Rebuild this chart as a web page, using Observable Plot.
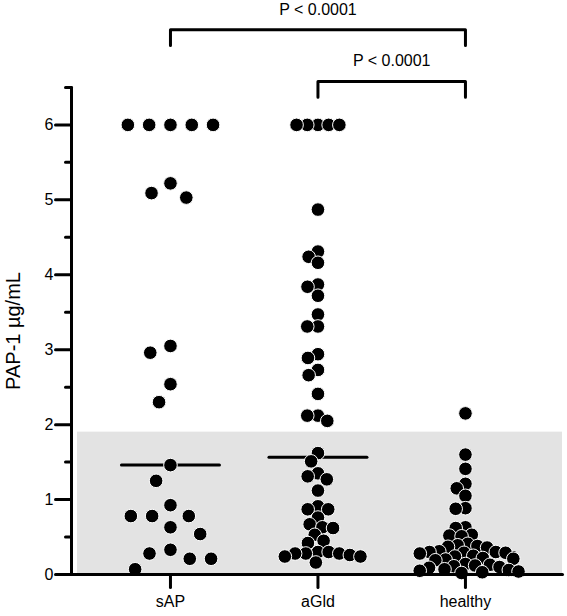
<!DOCTYPE html>
<html>
<head>
<meta charset="utf-8">
<script src="https://cdn.jsdelivr.net/npm/d3@7"></script>
<script src="https://cdn.jsdelivr.net/npm/@observablehq/plot@0.6"></script>
<style>
  html, body { margin: 0; padding: 0; background: #fff; overflow: hidden; }
  #chart svg { display: block; }
</style>
</head>
<body>
<div id="chart"></div>
<script>
// ---------------- data ----------------
const categories = ["sAP", "aGld", "healthy"];

const sAP = [6, 6, 6, 6, 6, 5.22, 5.09, 5.03, 3.05, 2.96, 2.54, 2.30,
  1.46, 1.25, 0.925, 0.78, 0.78, 0.78, 0.63, 0.54, 0.33, 0.28, 0.21, 0.21, 0.07];

const aGld = [6, 6, 6, 6, 6, 4.87, 4.31, 4.24, 4.16, 3.87, 3.84, 3.72, 3.47,
  3.31, 3.31, 2.94, 2.89, 2.73, 2.66, 2.41, 2.12, 2.12, 2.05, 1.62, 1.51,
  1.35, 1.31, 1.27, 1.12, 0.91, 0.87, 0.87, 0.76, 0.67, 0.63, 0.62, 0.53,
  0.45, 0.42, 0.30, 0.30, 0.28, 0.28, 0.28, 0.26, 0.24, 0.24, 0.16];

const healthy = [2.15, 1.60, 1.41, 1.21, 1.15, 1.05, 0.885, 0.877, 0.63, 0.62,
  0.53, 0.52, 0.51, 0.41, 0.39, 0.38, 0.37, 0.36, 0.31, 0.30, 0.30, 0.29, 0.29,
  0.28, 0.25, 0.24, 0.22, 0.21, 0.20, 0.19, 0.14, 0.13, 0.12, 0.11, 0.10, 0.09,
  0.07, 0.06, 0.05, 0.04, 0.03, 0.02];

const yTicks = [0, 1, 2, 3, 4, 5, 6];
const yMinorTicks = [0.5, 1.5, 2.5, 3.5, 4.5, 5.5, 6.5];
const normalRangeTop = 1.9;
const yLabel = "PAP-1 µg/mL";
const comparisons = [
  {from: "aGld", to: "healthy", label: "P < 0.0001"},
  {from: "sAP", to: "healthy", label: "P < 0.0001"}
];

// ---------------- layout ----------------
const W = 567, H = 616;
const mL = 71, mR = 5, mT = 12, mB = 42;
const xDomain = [-0.671, 2.658];
const yDomain = [0, 7.5];
const axisTop = 6.5;
const pxX = (W - mL - mR) / (xDomain[1] - xDomain[0]);
const pxY = (H - mT - mB) / (yDomain[1] - yDomain[0]);
const R = 6.8;
const minDist = {sAP: 21.3, aGld: 10.7, healthy: 9.8};
const medianHalfWidth = 49 / pxX;
const bracketBase = 6.58, bracketStep = 0.69, bracketDrop = 0.21, labelGap = 0.27;
const LW = 3;
const x0 = xDomain[0];

// greedy beeswarm (pixel offsets), highest values first
function swarm(values, m) {
  const order = d3.range(values.length).sort((a, b) => values[b] - values[a] || a - b);
  const placed = [];
  const out = new Array(values.length);
  for (const i of order) {
    const y = values[i] * pxY;
    const cands = [0];
    for (const p of placed) {
      const dy = Math.abs(p.y - y);
      if (dy < m) {
        const dx = Math.sqrt(m * m - dy * dy);
        cands.push(p.x - dx, p.x + dx);
      }
    }
    cands.sort((a, b) => Math.abs(a) - Math.abs(b) || a - b);
    let x = 0;
    for (const c of cands) {
      if (placed.every(p => (p.x - c) ** 2 + (p.y - y) ** 2 >= m * m - 1e-6)) { x = c; break; }
    }
    placed.push({x, y});
    out[i] = x;
  }
  return out;
}

const groups = [sAP, aGld, healthy];
const points = [];
groups.forEach((vals, gi) => {
  const offs = swarm(vals, minDist[categories[gi]]);
  vals.forEach((v, i) => points.push({group: categories[gi], gi, value: v, x: gi + offs[i] / pxX}));
});
const medians = groups.map((vals, gi) => ({gi, value: d3.median(vals)}));

// axis geometry as polyline segments (object data)
const axisSegs = [
  {id: "yaxis", x: x0, y: 0}, {id: "yaxis", x: x0, y: axisTop},
  {id: "xaxis", x: x0 - 1.5 / pxX, y: 0}, {id: "xaxis", x: xDomain[1], y: 0},
  ...yTicks.flatMap(v => [{id: "yt" + v, x: x0 - 16 / pxX, y: v}, {id: "yt" + v, x: x0, y: v}]),
  ...yMinorTicks.flatMap(v => [{id: "ym" + v, x: x0 - 6 / pxX, y: v}, {id: "ym" + v, x: x0, y: v}]),
  ...categories.flatMap((c, i) => [{id: "xt" + i, x: i, y: 0}, {id: "xt" + i, x: i, y: -13 / pxY}])
];
const yTickLabels = yTicks.map(v => ({v, label: String(v)}));
const xTickLabels = categories.map((c, i) => ({i, label: c}));
const medianSegs = medians.flatMap(m => [
  {id: m.gi, x: m.gi - medianHalfWidth, y: m.value}, {id: m.gi, x: m.gi + medianHalfWidth, y: m.value}
]);

const brackets = comparisons.map((c, k) => {
  const a = categories.indexOf(c.from), b = categories.indexOf(c.to);
  const yH = bracketBase + k * bracketStep;
  return {...c, a, b, yH, yE: yH - bracketDrop, mid: (a + b) / 2};
});
const bracketPts = brackets.flatMap((br, k) => [
  {k, x: br.a, y: br.yE}, {k, x: br.a, y: br.yH},
  {k, x: br.b, y: br.yH}, {k, x: br.b, y: br.yE}
]);

const chart = Plot.plot({
  width: W, height: H,
  marginLeft: mL, marginRight: mR, marginTop: mT, marginBottom: mB,
  style: {fontFamily: "Arial", fontSize: "16px", color: "#000", background: "#fff"},
  x: {domain: xDomain, label: null, axis: null},
  y: {domain: yDomain, label: null, axis: null},
  marks: [
    Plot.rect([{top: normalRangeTop}], {x1: xDomain[0], x2: xDomain[1], y1: 0, y2: "top",
      fill: "#e3e3e3", insetLeft: 6}),
    Plot.line(medianSegs, {x: "x", y: "y", z: "id", stroke: "#000", strokeWidth: LW}),
    Plot.dot(points, {x: "x", y: "value", r: R, fill: "#000", stroke: "#fff", strokeWidth: 1}),
    Plot.line(axisSegs, {x: "x", y: "y", z: "id", stroke: "#000", strokeWidth: LW}),
    Plot.text(yTickLabels, {x: x0 - 18 / pxX, y: "v", text: "label", textAnchor: "end",
      fontSize: 16, fill: "#000"}),
    Plot.text([{label: yLabel}], {x: x0 - 58 / pxX, y: axisTop / 2, text: "label", rotate: -90,
      textAnchor: "middle", fontSize: 20, fill: "#000"}),
    Plot.text(xTickLabels, {x: "i", y: -21 / pxY, text: "label", lineAnchor: "top",
      fontSize: 16, fill: "#000"}),
    Plot.line(bracketPts, {x: "x", y: "y", z: "k", stroke: "#000", strokeWidth: LW}),
    Plot.text(brackets, {x: "mid", y: d => d.yH + labelGap, text: "label", fontSize: 16, fill: "#000"})
  ]
});

document.getElementById("chart").append(chart);
</script>
</body>
</html>
